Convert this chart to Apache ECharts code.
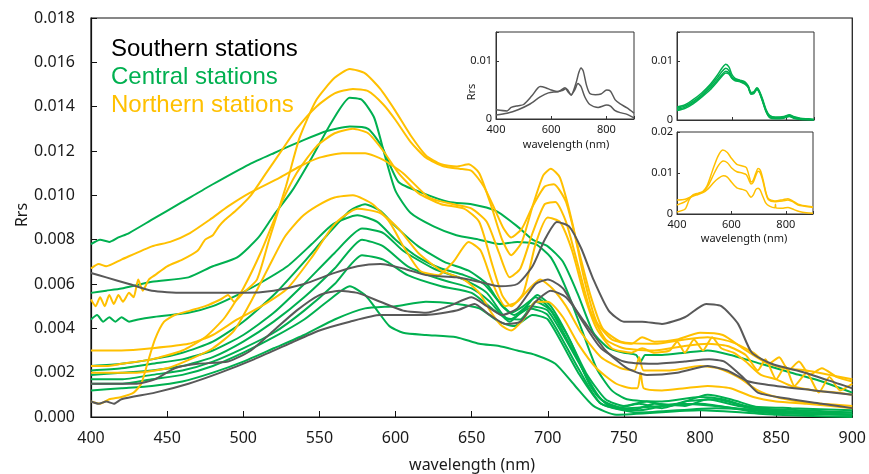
<!DOCTYPE html>
<html>
<head>
<meta charset="utf-8">
<script src="https://cdn.jsdelivr.net/npm/echarts@6/dist/echarts.min.js"></script>
<style>
  html, body { margin: 0; padding: 0; background: #fff; }
  #main { width: 869px; height: 474px; }
</style>
</head>
<body>
<div id="main"></div>
<script>
// 颜色
let GRAY = '#595959', GREEN = '#00B050', YELLOW = '#FFC000';

// ---- 主图数据 [波长, Rrs] ----
// Southern stations
let gray1 = [[400,.0065],[410,.0063],[425,.0060],[440,.0057],[460,.0056],[480,.0056],[500,.0056],[520,.0057],[540,.0060],[560,.0065],[575,.0068],[590,.0069],[605,.0067],[620,.0064],[640,.0063],[655,.0061],[668,.0059],[680,.0060],[690,.0068],[698,.0080],[706,.0088],[714,.0086],[722,.0076],[730,.0062],[740,.0048],[750,.0043],[762,.0043],[775,.0042],[790,.0045],[804,.0051],[814,.0050],[825,.0042],[834,.0029],[847,.0024],[869,.0020],[891,.0015],[900,.0013]];
let gray2 = [[400,.0015],[415,.0015],[430,.0015],[442,.0017],[455,.0022],[470,.0024],[490,.0025],[505,.0030],[520,.0039],[535,.0048],[550,.0055],[563,.0057],[575,.0056],[590,.0052],[605,.0048],[620,.0047],[635,.0050],[650,.0054],[660,.0050],[670,.0046],[680,.0049],[692,.0060],[700,.0062],[710,.0058],[722,.0044],[735,.0031],[750,.0025],[770,.0024],[790,.0025],[806,.0026],[816,.0025],[828,.0018],[838,.0011],[860,.0008],[880,.0006],[900,.0004]];
let gray3 = [[400,.0007],[405,.0006],[410,.0007],[415,.0006],[420,.0008],[442,.0011],[464,.0015],[485,.0020],[507,.0026],[530,.0033],[550,.0039],[570,.0043],[590,.0046],[605,.0046],[620,.0046],[640,.0048],[652,.0051],[660,.0047],[672,.0042],[682,.0043],[692,.0052],[702,.0057],[712,.0054],[724,.0043],[738,.0030],[752,.0022],[765,.0019],[785,.0020],[805,.0023],[818,.0021],[832,.0016],[850,.0014],[875,.0012],[900,.0010]];

// Central stations
let green1 = [[400,.0078],[406,.0080],[412,.0079],[418,.0081],[425,.0083],[440,.0089],[460,.0097],[480,.0105],[504,.0114],[520,.0119],[540,.0125],[555,.0129],[570,.0131],[582,.0130],[591,.0122],[602,.0106],[618,.0101],[635,.0097],[650,.0096],[666,.0093],[680,.0086],[690,.0080],[700,.0077],[710,.0070],[720,.0055],[730,.0038],[740,.0031],[750,.0029],[758,.0028],[761,.0025],[764,.0028],[775,.0028],[790,.0029],[805,.0030],[820,.0028],[840,.0024],[860,.0020],[880,.0016],[900,.0011]];
let green2 = [[400,.0056],[410,.0057],[420,.0058],[440,.0061],[464,.0063],[480,.0068],[496,.0072],[510,.0081],[520,.0091],[532,.0102],[545,.0117],[558,.0133],[570,.0144],[578,.0143],[586,.0135],[593,.0118],[600,.0102],[610,.0092],[625,.0086],[640,.0082],[655,.0080],[668,.0078],[680,.0079],[692,.0078],[702,.0072],[712,.0058],[722,.0040],[732,.0022],[742,.0012],[752,.0008],[775,.0007],[800,.0009],[815,.0008],[830,.0005],[860,.0004],[900,.0003]];
let green3 = [[400,.0044],[404,.0046],[408,.0043],[412,.0045],[416,.0043],[420,.0045],[425,.0043],[431,.0044],[440,.0045],[464,.0047],[480,.0050],[496,.0055],[510,.0060],[529,.0068],[545,.0078],[559,.0087],[575,.0091],[588,.0088],[600,.0080],[615,.0072],[630,.0067],[645,.0064],[658,.0060],[668,.0052],[676,.0047],[684,.0050],[692,.0054],[700,.0050],[712,.0038],[725,.0020],[738,.0008],[750,.0005],[765,.0007],[780,.0005],[805,.0010],[820,.0008],[840,.0004],[870,.0003],[900,.0002]];
let green4 = [[400,.0023],[420,.0024],[440,.0026],[460,.0029],[480,.0034],[500,.0043],[520,.0055],[540,.0070],[555,.0082],[570,.0093],[580,.0096],[590,.0093],[600,.0086],[615,.0077],[632,.0070],[648,.0066],[660,.0060],[670,.0050],[678,.0046],[686,.0050],[693,.0055],[702,.0050],[715,.0034],[728,.0014],[740,.0005],[755,.0003],[770,.0006],[790,.0005],[805,.0008],[825,.0005],[860,.0002],[900,.0001]];
let green5 = [[400,.0021],[420,.0022],[440,.0024],[460,.0026],[480,.0030],[500,.0037],[520,.0047],[540,.0060],[560,.0074],[578,.0085],[592,.0083],[605,.0075],[625,.0067],[645,.0062],[660,.0056],[672,.0045],[682,.0044],[692,.0052],[702,.0048],[718,.0028],[732,.0010],[745,.0004],[760,.0006],[775,.0004],[790,.0007],[810,.0008],[840,.0003],[900,.0002]];
let green6 = [[400,.0019],[420,.0020],[440,.0021],[460,.0023],[480,.0027],[500,.0034],[520,.0043],[540,.0054],[560,.0067],[578,.0080],[592,.0077],[608,.0068],[630,.0062],[650,.0058],[662,.0052],[675,.0043],[688,.0050],[700,.0048],[720,.0025],[735,.0008],[750,.0004],[800,.0006],[840,.0002],[900,.0001]];
let green7 = [[400,.0017],[420,.0017],[440,.0019],[460,.0021],[480,.0025],[500,.0031],[520,.0038],[540,.0048],[560,.0060],[578,.0073],[592,.0071],[608,.0064],[630,.0059],[650,.0056],[665,.0048],[675,.0044],[688,.0049],[700,.0046],[720,.0022],[735,.0006],[760,.0003],[785,.0006],[810,.0005],[850,.0002],[900,.0001]];
let green8 = [[400,.0015],[420,.0015],[440,.0017],[460,.0019],[480,.0023],[500,.0029],[520,.0036],[540,.0044],[555,.0052],[570,.0059],[580,.0055],[588,.0048],[596,.0041],[605,.0038],[620,.0037],[640,.0036],[655,.0033],[668,.0032],[680,.0030],[692,.0028],[705,.0024],[718,.0014],[730,.0005],[745,.0001],[800,.0003],[850,.0001],[900,.0000]];
let green9 = [[400,.0012],[420,.0013],[440,.0014],[460,.0016],[480,.0020],[500,.0025],[520,.0031],[540,.0037],[560,.0044],[580,.0049],[600,.0050],[620,.0052],[640,.0051],[655,.0049],[668,.0043],[678,.0041],[690,.0046],[700,.0044],[720,.0020],[735,.0006],[760,.0002],[810,.0004],[900,.0001]];

// Northern stations
let yellow1 = [[400,.0007],[406,.0006],[412,.0008],[420,.0009],[428,.0011],[433,.0015],[437,.0024],[442,.0035],[448,.0043],[455,.0046],[465,.0048],[475,.0050],[485,.0053],[490,.0055],[494,.0052],[500,.0056],[509,.0062],[517,.0080],[528,.0104],[537,.0126],[548,.0143],[560,.0153],[570,.0157],[580,.0155],[590,.0148],[600,.0138],[610,.0127],[620,.0118],[630,.0114],[640,.0113],[648,.0114],[655,.0110],[663,.0095],[670,.0080],[676,.0073],[683,.0079],[690,.0095],[697,.0109],[702,.0112],[708,.0108],[716,.0088],[724,.0062],[732,.0043],[742,.0035],[755,.0033],[762,.0036],[770,.0034],[785,.0035],[800,.0038],[815,.0037],[828,.0031],[842,.0025],[855,.0022],[870,.0021],[885,.0019],[900,.0017]];
let yellow2 = [[400,.0053],[403,.0050],[406,.0054],[409,.0050],[412,.0055],[415,.0051],[418,.0055],[421,.0052],[425,.0056],[428,.0054],[431,.0062],[434,.0057],[438,.0062],[442,.0064],[450,.0068],[460,.0071],[470,.0075],[475,.0080],[480,.0082],[484,.0086],[488,.0089],[495,.0093],[505,.0100],[515,.0110],[525,.0120],[535,.0130],[548,.0140],[560,.0146],[572,.0148],[582,.0147],[592,.0141],[600,.0134],[610,.0124],[620,.0117],[632,.0113],[642,.0112],[650,.0111],[658,.0104],[665,.0094],[671,.0085],[676,.0081],[683,.0085],[690,.0095],[698,.0104],[704,.0105],[712,.0097],[720,.0076],[728,.0055],[736,.0040],[748,.0034],[770,.0033],[790,.0035],[805,.0036],[820,.0034],[835,.0029],[845,.0024],[852,.0027],[858,.0021],[865,.0025],[872,.0019],[880,.0022],[890,.0018],[900,.0016]];
let yellow3 = [[400,.0067],[405,.0069],[410,.0068],[420,.0071],[440,.0077],[452,.0079],[465,.0083],[478,.0089],[490,.0095],[504,.0101],[524,.0108],[537,.0113],[550,.0117],[565,.0119],[580,.0119],[592,.0116],[605,.0110],[622,.0099],[638,.0096],[650,.0094],[660,.0088],[668,.0074],[675,.0063],[682,.0067],[690,.0083],[698,.0096],[705,.0097],[712,.0088],[720,.0068],[728,.0048],[738,.0035],[750,.0031],[770,.0030],[790,.0032],[805,.0033],[818,.0032],[830,.0028],[838,.0021],[843,.0026],[850,.0017],[856,.0023],[862,.0014],[870,.0020],[878,.0011],[885,.0018],[892,.0012],[900,.0015]];
let yellow4 = [[400,.0023],[410,.0023],[420,.0024],[440,.0026],[460,.0030],[475,.0036],[488,.0045],[500,.0058],[512,.0075],[524,.0095],[535,.0110],[548,.0122],[560,.0128],[572,.0130],[582,.0128],[592,.0120],[602,.0110],[615,.0101],[630,.0096],[645,.0094],[655,.0088],[663,.0070],[670,.0055],[676,.0050],[684,.0056],[692,.0078],[700,.0090],[708,.0088],[716,.0075],[724,.0055],[732,.0040],[742,.0031],[755,.0029],[762,.0031],[770,.0029],[780,.0030],[785,.0034],[790,.0029],[796,.0035],[802,.0030],[808,.0036],[814,.0031],[822,.0029],[830,.0025],[840,.0019],[850,.0017],[860,.0014],[875,.0012],[890,.0011],[900,.0010]];
let yellow5 = [[400,.0030],[420,.0030],[440,.0031],[464,.0033],[480,.0037],[496,.0044],[512,.0050],[529,.0058],[545,.0072],[560,.0087],[575,.0094],[590,.0092],[602,.0085],[615,.0074],[630,.0066],[645,.0062],[655,.0056],[663,.0047],[670,.0041],[676,.0039],[684,.0044],[692,.0052],[700,.0052],[710,.0045],[720,.0033],[732,.0022],[745,.0015],[755,.0013],[759,.0013],[761,.0020],[763,.0013],[775,.0012],[790,.0013],[805,.0014],[820,.0013],[835,.0009],[850,.0007],[870,.0006],[900,.0004]];
let yellow6 = [[400,.0020],[415,.0020],[430,.0020],[450,.0022],[465,.0026],[480,.0031],[494,.0039],[505,.0052],[517,.0068],[527,.0081],[538,.0090],[548,.0095],[560,.0099],[572,.0100],[585,.0096],[596,.0088],[606,.0076],[616,.0066],[628,.0064],[638,.0070],[648,.0079],[656,.0075],[664,.0060],[672,.0050],[680,.0052],[688,.0058],[695,.0062],[703,.0058],[712,.0050],[722,.0038],[735,.0027],[748,.0022],[757,.0021],[760,.0027],[763,.0021],[780,.0021],[800,.0023],[812,.0022],[825,.0018],[838,.0012],[850,.0009],[865,.0007],[880,.0006],[900,.0005]];

// ---- 插图数据 ----
let insetGray1 = [[400,.0016],[440,.0014],[455,.0020],[480,.0023],[500,.0025],[530,.0040],[560,.0056],[580,.0054],[600,.0050],[625,.0047],[650,.0054],[660,.0050],[672,.0041],[690,.0062],[700,.0080],[708,.0088],[716,.0083],[728,.0058],[740,.0044],[760,.0042],[780,.0043],[801,.0050],[815,.0048],[832,.0033],[850,.0026],[875,.0019],[900,.0010]];
let insetGray2 = [[400,.0007],[440,.0010],[480,.0016],[520,.0025],[560,.0038],[590,.0045],[620,.0047],[640,.0049],[652,.0052],[662,.0046],[672,.0042],[685,.0050],[697,.0061],[708,.0056],[722,.0038],[740,.0025],[770,.0020],[801,.0024],[815,.0022],[830,.0015],[850,.0011],[875,.0008],[900,.0002]];
let insetGreen1 = [[400,.0022],[430,.0026],[460,.0035],[490,.0046],[520,.0060],[545,.0075],[565,.0089],[578,.0095],[590,.0090],[600,.0078],[612,.0071],[630,.0068],[648,.0065],[660,.0058],[670,.0047],[680,.0048],[692,.0055],[700,.0050],[712,.0036],[725,.0018],[738,.0008],[760,.0005],[790,.0006],[810,.0009],[825,.0006],[850,.0003],[880,.0002],[900,.0001]];
let insetGreen2 = [[400,.0020],[430,.0024],[460,.0032],[490,.0043],[520,.0057],[545,.0071],[565,.0083],[578,.0088],[590,.0084],[600,.0074],[612,.0069],[630,.0067],[648,.0063],[660,.0057],[670,.0046],[680,.0047],[692,.0054],[700,.0049],[712,.0034],[725,.0016],[738,.0006],[760,.0004],[790,.0005],[810,.0008],[825,.0005],[850,.0002],[900,.0001]];
let insetGreen3 = [[400,.0018],[430,.0022],[460,.0030],[490,.0041],[520,.0054],[545,.0067],[565,.0078],[578,.0083],[590,.0080],[600,.0072],[612,.0068],[630,.0066],[648,.0062],[660,.0056],[670,.0045],[680,.0046],[692,.0053],[700,.0048],[712,.0033],[725,.0015],[738,.0005],[760,.0003],[790,.0004],[810,.0007],[825,.0004],[850,.0002],[900,.0000]];
let insetGreen4 = [[400,.0016],[430,.0020],[460,.0028],[490,.0039],[520,.0051],[545,.0064],[565,.0075],[578,.0080],[590,.0078],[600,.0071],[612,.0067],[630,.0065],[648,.0061],[660,.0055],[670,.0044],[680,.0045],[692,.0052],[700,.0047],[712,.0032],[725,.0014],[738,.0004],[760,.0002],[790,.0003],[810,.0006],[825,.0003],[850,.0001],[900,.0000]];
let insetYellow1 = [[400,.0005],[430,.0012],[445,.0035],[460,.0047],[480,.0051],[495,.0055],[510,.0068],[530,.0105],[550,.0140],[568,.0156],[585,.0150],[600,.0136],[620,.0121],[640,.0117],[655,.0113],[665,.0093],[672,.0078],[680,.0082],[690,.0100],[698,.0111],[706,.0107],[716,.0085],[726,.0055],[736,.0037],[760,.0032],[790,.0035],[808,.0037],[825,.0032],[845,.0024],[870,.0020],[900,.0017]];
let insetYellow2 = [[400,.0022],[430,.0030],[450,.0042],[470,.0048],[495,.0054],[515,.0070],[535,.0097],[552,.0118],[570,.0129],[585,.0125],[600,.0113],[620,.0103],[640,.0100],[655,.0096],[665,.0082],[672,.0073],[680,.0077],[690,.0094],[698,.0104],[706,.0100],[716,.0080],[726,.0052],[736,.0035],[760,.0030],[790,.0032],[808,.0034],[825,.0030],[845,.0022],[870,.0019],[900,.0016]];
let insetYellow3 = [[400,.0034],[430,.0036],[450,.0041],[470,.0046],[495,.0052],[515,.0062],[535,.0077],[552,.0087],[570,.0093],[585,.0090],[600,.0078],[620,.0064],[640,.0060],[655,.0056],[665,.0046],[672,.0041],[680,.0046],[690,.0060],[698,.0063],[706,.0058],[716,.0042],[726,.0027],[740,.0019],[760,.0015],[762,.0024],[764,.0015],[790,.0014],[808,.0016],[825,.0012],[850,.0006],[875,.0003],[900,.0002]];

// 刻度标签
let mainXTicks = [400, 450, 500, 550, 600, 650, 700, 750, 800, 850, 900];
let mainYTicks = ['0.000','0.002','0.004','0.006','0.008','0.010','0.012','0.014','0.016','0.018'];
let legendTexts = ['Southern stations', 'Central stations', 'Northern stations'];

let mainSeries = [
  [green1, GREEN], [green2, GREEN], [green3, GREEN], [green4, GREEN], [green5, GREEN],
  [green6, GREEN], [green7, GREEN], [green8, GREEN], [green9, GREEN],
  [yellow1, YELLOW], [yellow2, YELLOW], [yellow3, YELLOW], [yellow4, YELLOW], [yellow5, YELLOW], [yellow6, YELLOW],
  [gray1, GRAY], [gray2, GRAY], [gray3, GRAY]
];
let insetSeries = [
  [insetGray1, GRAY, 1], [insetGray2, GRAY, 1],
  [insetGreen1, GREEN, 2], [insetGreen2, GREEN, 2], [insetGreen3, GREEN, 2], [insetGreen4, GREEN, 2],
  [insetYellow1, YELLOW, 3], [insetYellow2, YELLOW, 3], [insetYellow3, YELLOW, 3]
];

let chart = echarts.init(document.getElementById('main'));
let FONT = 'Noto Sans';
let TXT = '#1a1a1a';

function insetX(idx, showLabel) {
  return {
    type: 'value', gridIndex: idx, min: 400, max: 900, interval: 200,
    axisLine: { show: true, lineStyle: { color: '#333', width: 1 } },
    axisTick: { show: true, inside: true, length: 3, lineStyle: { color: '#333' } },
    axisLabel: { show: showLabel, fontSize: 11, color: TXT, fontFamily: FONT, margin: 5,
      formatter: function (v) { return v === 900 ? '' : String(v); } },
    splitLine: { show: false }
  };
}
function insetY(idx, max) {
  return {
    type: 'value', gridIndex: idx, min: 0, max: max, interval: 0.01,
    axisLine: { show: true, lineStyle: { color: '#333', width: 1 } },
    axisTick: { show: true, inside: true, length: 3, lineStyle: { color: '#333' } },
    axisLabel: { fontSize: 11, color: TXT, fontFamily: FONT, margin: 4,
      formatter: function (v) {
        if (Math.abs(v) < 1e-9) return '0';
        if (Math.abs(v - 0.01) < 1e-9) return '0.01';
        if (Math.abs(v - 0.02) < 1e-9) return '0.02';
        return '';
      } },
    splitLine: { show: false }
  };
}

let series = [];
mainSeries.forEach(function (s) {
  series.push({
    type: 'line', xAxisIndex: 0, yAxisIndex: 0, data: s[0],
    showSymbol: false, smooth: 0.2, silent: true,
    lineStyle: { color: s[1], width: 2 }
  });
});
insetSeries.forEach(function (s) {
  series.push({
    type: 'line', xAxisIndex: s[2], yAxisIndex: s[2], data: s[0],
    showSymbol: false, smooth: 0.25, silent: true,
    lineStyle: { color: s[1], width: 1.5 }
  });
});

let option = {
  animation: false,
  backgroundColor: '#fff',
  grid: [
    { left: 91, top: 18, width: 762, height: 399, show: true, borderColor: '#111', borderWidth: 1.2, backgroundColor: 'transparent' },
    { left: 496, top: 32, width: 138, height: 87, show: true, borderColor: '#333', borderWidth: 1, backgroundColor: '#fff' },
    { left: 677, top: 32, width: 137, height: 88, show: true, borderColor: '#333', borderWidth: 1, backgroundColor: '#fff' },
    { left: 677, top: 132, width: 136, height: 82, show: true, borderColor: '#333', borderWidth: 1, backgroundColor: '#fff' }
  ],
  xAxis: [
    {
      type: 'value', gridIndex: 0, min: 400, max: 900, interval: 50,
      axisLine: { show: true, lineStyle: { color: '#111', width: 1.2 } },
      axisTick: { show: true, inside: true, length: 6, lineStyle: { color: '#111' } },
      axisLabel: { fontSize: 16, color: TXT, fontFamily: FONT, margin: 13,
        formatter: function (v) { return mainXTicks.indexOf(v) >= 0 ? String(v) : ''; } },
      splitLine: { show: false }
    },
    insetX(1, true), insetX(2, false), insetX(3, true)
  ],
  yAxis: [
    {
      type: 'value', gridIndex: 0, min: 0, max: 0.018, interval: 0.002,
      axisLine: { show: true, lineStyle: { color: '#111', width: 1.2 } },
      axisTick: { show: true, inside: true, length: 6, lineStyle: { color: '#111' } },
      axisLabel: { fontSize: 16, color: TXT, fontFamily: FONT, margin: 16,
        formatter: function (v) { return mainYTicks[Math.round(v / 0.002)]; } },
      splitLine: { show: false }
    },
    insetY(1, 0.015), insetY(2, 0.015), insetY(3, 0.02)
  ],
  graphic: [
    { type: 'text', left: 111, top: 37, style: { text: legendTexts[0], fill: '#000', font: '24px "Liberation Sans", Arial' } },
    { type: 'text', left: 111, top: 65, style: { text: legendTexts[1], fill: GREEN, font: '24px "Liberation Sans", Arial' } },
    { type: 'text', left: 111, top: 93, style: { text: legendTexts[2], fill: YELLOW, font: '24px "Liberation Sans", Arial' } },
    { type: 'text', x: 22, y: 215, rotation: Math.PI / 2, style: { text: 'Rrs', fill: TXT, font: '16px "Noto Sans"', textAlign: 'center', textVerticalAlign: 'middle' } },
    { type: 'text', x: 472, y: 465, style: { text: 'wavelength (nm)', fill: TXT, font: '16px "Noto Sans"', textAlign: 'center', textVerticalAlign: 'middle' } },
    { type: 'text', x: 472, y: 92, rotation: Math.PI / 2, style: { text: 'Rrs', fill: TXT, font: '11px "Noto Sans"', textAlign: 'center', textVerticalAlign: 'middle' } },
    { type: 'text', x: 566, y: 145, style: { text: 'wavelength (nm)', fill: TXT, font: '11px "Noto Sans"', textAlign: 'center', textVerticalAlign: 'middle' } },
    { type: 'text', x: 744, y: 239, style: { text: 'wavelength (nm)', fill: TXT, font: '11px "Noto Sans"', textAlign: 'center', textVerticalAlign: 'middle' } }
  ],
  series: series
};
chart.setOption(option);
</script>
</body>
</html>
